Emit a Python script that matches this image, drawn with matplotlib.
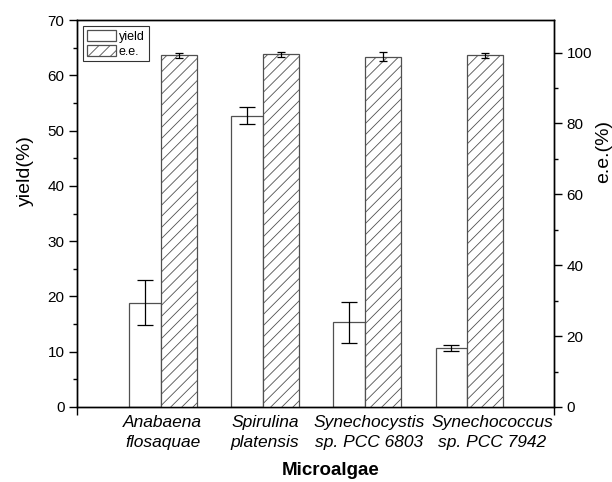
import numpy as np
import matplotlib
matplotlib.use('Agg')
import matplotlib.pyplot as plt
import matplotlib.transforms as mtransforms

plt.rcParams['font.family'] = ['Liberation Sans', 'DejaVu Sans']
plt.rcParams['hatch.linewidth'] = 0.6

# data
species = ['Anabaena\nflosaquae', 'Spirulina\nplatensis',
           'Synechocystis\nsp. PCC 6803', 'Synechococcus\nsp. PCC 7942']
yield_val = [18.9, 52.7, 15.3, 10.7]
yield_err = [4.0, 1.5, 3.7, 0.6]
ee_val = [99.2, 99.5, 98.9, 99.3]
ee_err = [0.8, 0.6, 1.2, 0.7]

x = np.arange(1, len(species) + 1)

fig = plt.figure(figsize=(6.12, 4.82), dpi=100)
ax = fig.add_axes([77/612, 1 - 407/482, 477/612, 387/482])
ax2 = ax.twinx()

wy = 0.31
we = 0.35
ax.bar(x - wy/2, yield_val, width=wy, color='white', edgecolor='#505050',
       linewidth=0.9, label='yield', zorder=2)
ax.errorbar(x - wy/2, yield_val, yerr=yield_err, fmt='none', ecolor='black',
            elinewidth=0.9, capsize=5.8, capthick=0.9, zorder=3)

ax2.bar(x + we/2, ee_val, width=we, color='white', edgecolor='#505050',
        hatch='///', linewidth=0.9, label='e.e.', zorder=2)
ax2.errorbar(x + we/2, ee_val, yerr=ee_err, fmt='none', ecolor='black',
             elinewidth=0.9, capsize=2.8, capthick=0.9, zorder=3)

ax.set_xlim(0.18, 4.85)
ax.set_ylim(0, 70)
ax2.set_ylim(0, 109.2)

ax.set_yticks(np.arange(0, 71, 10))
ax.set_yticks(np.arange(5, 70, 10), minor=True)
ax2.set_yticks(np.arange(0, 101, 20))
ax2.set_yticks(np.arange(10, 101, 20), minor=True)

ax.set_xticks([0.18, 4.85])
ax.set_xticklabels(['', ''])
ax.set_xticks(x, minor=True)
ax.set_xticklabels(species, minor=True, fontsize=12.5, style='italic',
                   linespacing=1.4)
ax.tick_params(axis='x', which='major', direction='out', length=6, width=1)
ax.tick_params(axis='x', which='minor', length=0, pad=6)

# origin nudged the labels to the right (last one to avoid overlap)
shifts = [2, 2, 4, 25]
for lab, dx in zip(ax.get_xticklabels(minor=True), shifts):
    lab.set_transform(lab.get_transform() +
                      mtransforms.ScaledTranslation(dx/100, 0, fig.dpi_scale_trans))

ax.tick_params(axis='y', which='major', direction='out', length=6, width=1,
               labelsize=11, pad=3)
ax.tick_params(axis='y', which='minor', direction='out', length=3, width=1)
ax2.tick_params(axis='y', which='major', direction='out', length=6, width=1,
                labelsize=11, pad=3)
ax2.tick_params(axis='y', which='minor', direction='out', length=3, width=1)

for a in (ax, ax2):
    for s in a.spines.values():
        s.set_linewidth(1)

ax.set_ylabel('yield(%)', fontsize=14, va='center')
ax.yaxis.set_label_coords(-0.108, 0.61)
ax2.set_ylabel('e.e.(%)', fontsize=14, va='center')
ax2.yaxis.set_label_coords(1.103, 0.66)
ax.set_xlabel('Microalgae', fontsize=13.5, fontweight='bold', va='center')
ax.xaxis.set_label_coords(0.532, -0.163)

h1, l1 = ax.get_legend_handles_labels()
h2, l2 = ax2.get_legend_handles_labels()
leg = ax2.legend(h1 + h2, l1 + l2, loc='upper left', fontsize=9,
                 frameon=True, fancybox=False, edgecolor='black',
                 handlelength=2.3, handleheight=1.0, handletextpad=0.25,
                 borderpad=0.3, labelspacing=0.15, borderaxespad=0.5)
leg.get_frame().set_linewidth(0.8)

fig.savefig('out.png', dpi=100)
